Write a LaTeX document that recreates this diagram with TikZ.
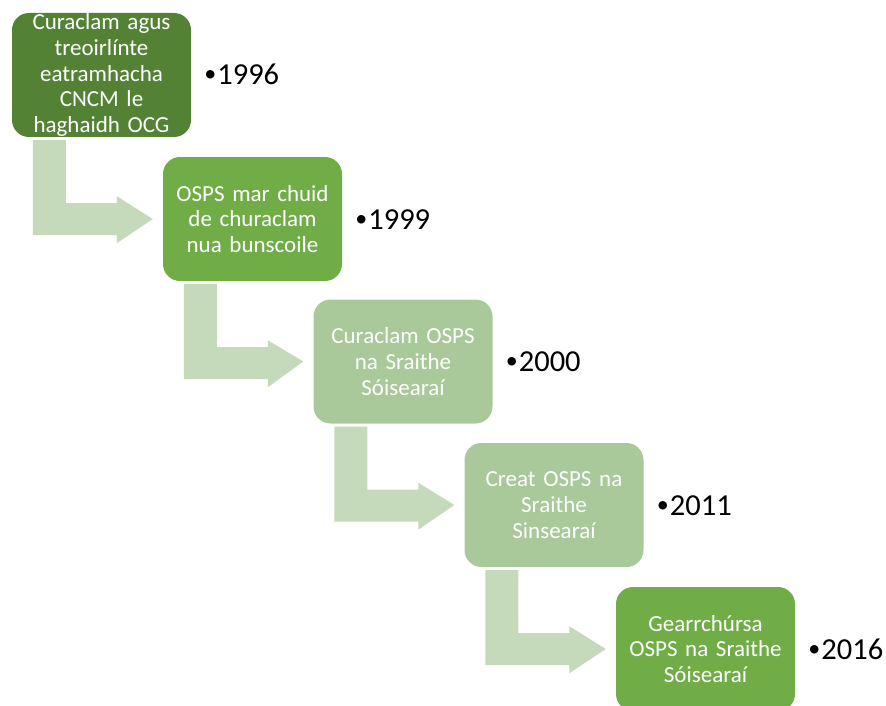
\documentclass[tikz,border=0pt]{standalone}
\usepackage{fontspec}
\setmainfont{Carlito}
\usetikzlibrary{calc}
\definecolor{gdark}{HTML}{548235}
\definecolor{gmid}{HTML}{70AD47}
\definecolor{glight}{HTML}{A9C99A}
\definecolor{garrow}{HTML}{C5D9BB}
\newcommand{\yrbullet}{\raisebox{3pt}{\fontsize{24}{24}\selectfont•}\kern1pt}
\tikzset{
  box/.style={rounded corners=17pt, minimum width=179pt, minimum height=124pt,
    inner sep=0pt, text=white, align=center, text width=178pt,
    font=\fontsize{23}{25.8}\selectfont},
  yearlbl/.style={anchor=base west, inner sep=0pt, font=\fontsize{30.5}{32}\selectfont},
  bentarrow/.style={fill=garrow, draw=none}
}
\begin{document}
\begin{tikzpicture}[x=1pt,y=-1pt]
\useasboundingbox (0,0) rectangle (886,706);
\clip (0,0) rectangle (886,706);
\node[box, fill=gdark]  (b1) at (101.5,75)  {Curaclam agus\\treoirlínte\\eatramhacha\\CNCM le\\haghaidh OCG};
\node[box, fill=gmid]   (b2) at (252.5,219) {OSPS mar chuid\\de churaclam\\nua bunscoile};
\node[box, fill=glight] (b3) at (403,361.5) {Curaclam OSPS\\na Sraithe\\Sóisearaí};
\node[box, fill=glight] (b4) at (554,505)   {Creat OSPS na\\Sraithe\\Sinsearaí};
\node[box, fill=gmid]   (b5) at (705.5,649) {Gearrchúrsa\\OSPS na Sraithe\\Sóisearaí};
\foreach \a/\y in {b1/1996,b2/1999,b3/2000,b4/2011,b5/2016}{
  \node[yearlbl] (y\a) at ($(\a.east)+(13,10)$) {\yrbullet\y};
}
\foreach \a/\b in {b1/b2,b2/b3,b3/b4,b4/b5}{
  \fill[bentarrow]
    ($(\a.south west)+(21,3)$) -- ($(\a.south west)+(54,3)$) --
    ($(\a.south west)+(54,66)$) -- ($(\a.south west)+(105,66)$) --
    ($(\a.south west)+(105,59)$) -- ($(\b.west)+(-10,0)$) --
    ($(\a.south west)+(105,106)$) -- ($(\a.south west)+(105,98)$) --
    ($(\a.south west)+(21,98)$) -- cycle;
}
\end{tikzpicture}
\end{document}
